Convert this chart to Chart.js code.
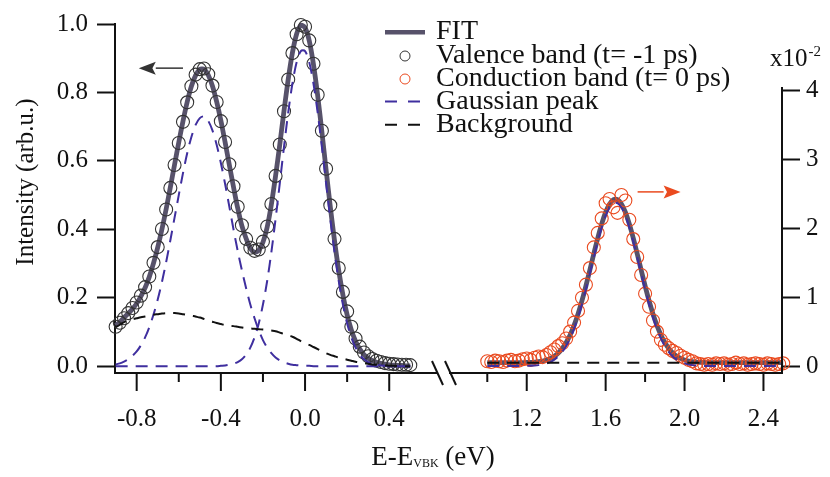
<!DOCTYPE html>
<html><head><meta charset="utf-8">
<script src="https://cdn.jsdelivr.net/npm/chart.js@4.4.1/dist/chart.umd.min.js"></script>
<style>
html,body{margin:0;padding:0;background:#fff;}
#wrap{position:relative;width:830px;height:477px;background:#fff;}
canvas{position:absolute;left:0;top:0;}
</style></head><body>
<div id="wrap"><canvas id="cA" width="830" height="477"></canvas><canvas id="cB" width="830" height="477"></canvas></div>
<script>
// ---------- Valence band panel (left axis) ----------
const vbX = [-0.90,-0.88,-0.86,-0.84,-0.82,-0.80,-0.78,-0.76,-0.74,-0.72,-0.70,-0.68,-0.66,-0.64,-0.62,-0.60,-0.58,-0.56,-0.54,-0.52,-0.50,-0.48,-0.46,-0.44,-0.42,-0.40,-0.38,-0.36,-0.34,-0.32,-0.30,-0.28,-0.26,-0.24,-0.22,-0.20,-0.18,-0.16,-0.14,-0.12,-0.10,-0.08,-0.06,-0.04,-0.02,0.00,0.02,0.04,0.06,0.08,0.10,0.12,0.14,0.16,0.18,0.20,0.22,0.24,0.26,0.28,0.30,0.32,0.34,0.36,0.38,0.40,0.42,0.44,0.46,0.48,0.50];
const vbData = [0.115,0.127,0.140,0.155,0.170,0.186,0.206,0.231,0.262,0.302,0.348,0.401,0.458,0.521,0.588,0.652,0.714,0.771,0.818,0.852,0.868,0.870,0.853,0.820,0.772,0.716,0.655,0.590,0.526,0.466,0.412,0.372,0.346,0.337,0.341,0.364,0.408,0.474,0.556,0.648,0.745,0.838,0.915,0.970,0.997,0.992,0.952,0.884,0.793,0.688,0.577,0.470,0.372,0.287,0.217,0.160,0.115,0.081,0.057,0.040,0.029,0.021,0.016,0.012,0.009,0.007,0.006,0.005,0.004,0.004,0.003];
const vbFit = [0.119,0.129,0.142,0.154,0.167,0.183,0.204,0.229,0.261,0.301,0.347,0.400,0.459,0.523,0.589,0.654,0.716,0.772,0.818,0.850,0.867,0.868,0.851,0.819,0.773,0.718,0.655,0.589,0.524,0.462,0.410,0.373,0.344,0.333,0.338,0.362,0.406,0.473,0.556,0.648,0.746,0.838,0.916,0.971,0.996,0.989,0.951,0.882,0.791,0.685,0.574,0.466,0.367,0.280,0.208,0.150,0.106,0.073,0.050,0.034,0.023,0.016,0.011,0.008,0.006,0.004,0.003,0.002,0.002,0.001,0.001];
const vbGauss1 = [0.005,0.008,0.013,0.020,0.030,0.043,0.061,0.084,0.114,0.151,0.195,0.246,0.304,0.368,0.434,0.500,0.564,0.622,0.670,0.705,0.725,0.730,0.717,0.689,0.647,0.594,0.533,0.467,0.400,0.337,0.280,0.228,0.180,0.140,0.105,0.076,0.054,0.038,0.025,0.017,0.011,0.007,0.004,0.003,0.002,0.001,0.001,0,0,0,0,0,0,0,0,0,0,0,0,0,0,0,0,0,0,0,0,0,0,0,0];
const vbGauss2 = [0,0,0,0,0,0,0,0,0,0,0,0,0,0,0,0,0,0,0,0,0,0,0,0,0,0.001,0.002,0.004,0.007,0.012,0.020,0.034,0.054,0.084,0.125,0.180,0.249,0.333,0.430,0.534,0.641,0.741,0.826,0.888,0.921,0.921,0.888,0.826,0.741,0.641,0.534,0.430,0.333,0.249,0.180,0.125,0.084,0.054,0.034,0.020,0.012,0.007,0.004,0.002,0.001,0,0,0,0,0,0];
const vbBackground = [0.114,0.121,0.129,0.134,0.137,0.140,0.143,0.145,0.147,0.150,0.152,0.154,0.155,0.155,0.155,0.154,0.152,0.150,0.148,0.145,0.142,0.138,0.134,0.130,0.126,0.123,0.120,0.118,0.117,0.115,0.113,0.111,0.110,0.109,0.108,0.107,0.106,0.104,0.102,0.098,0.094,0.090,0.086,0.080,0.073,0.067,0.062,0.056,0.050,0.044,0.038,0.033,0.029,0.025,0.022,0.019,0.016,0.013,0.011,0.009,0.007,0.005,0.004,0.003,0.002,0.001,0.001,0,0,0,0];

// ---------- Conduction band panel (right axis, x10^-2) ----------
const cbX = [1.00,1.02,1.04,1.06,1.08,1.10,1.12,1.14,1.16,1.18,1.20,1.22,1.24,1.26,1.28,1.30,1.32,1.34,1.36,1.38,1.40,1.42,1.44,1.46,1.48,1.50,1.52,1.54,1.56,1.58,1.60,1.62,1.64,1.66,1.68,1.70,1.72,1.74,1.76,1.78,1.80,1.82,1.84,1.86,1.88,1.90,1.92,1.94,1.96,1.98,2.00,2.02,2.04,2.06,2.08,2.10,2.12,2.14,2.16,2.18,2.20,2.22,2.24,2.26,2.28,2.30,2.32,2.34,2.36,2.38,2.40,2.42,2.44,2.46,2.48,2.50];
const cbData = [0.07,0.06,0.08,0.07,0.06,0.08,0.09,0.07,0.08,0.10,0.11,0.09,0.12,0.14,0.13,0.16,0.20,0.24,0.29,0.33,0.40,0.50,0.63,0.80,0.99,1.18,1.42,1.72,1.93,2.14,2.36,2.42,2.30,2.22,2.48,2.40,2.12,1.84,1.58,1.32,1.05,0.86,0.66,0.50,0.38,0.31,0.26,0.22,0.19,0.15,0.12,0.09,0.07,0.04,0.03,0.02,0.03,0.02,0.04,0.03,0.04,0.02,0.03,0.05,0.03,0.04,0.02,0.03,0.04,0.03,0.02,0.04,0.03,0.02,0.03,0.04];
const cbFit = [0.050,0.050,0.050,0.050,0.050,0.050,0.050,0.050,0.050,0.050,0.053,0.055,0.058,0.064,0.074,0.089,0.111,0.144,0.190,0.255,0.341,0.451,0.589,0.755,0.948,1.163,1.393,1.628,1.855,2.060,2.229,2.349,2.412,2.412,2.349,2.229,2.060,1.855,1.628,1.393,1.163,0.948,0.755,0.589,0.451,0.341,0.255,0.190,0.144,0.111,0.089,0.074,0.064,0.058,0.055,0.053,0.050,0.050,0.050,0.050,0.050,0.050,0.050,0.050,0.050,0.050,0.050,0.050,0.050,0.050,0.050,0.050,0.050,0.050,0.050,0.050];
const cbGauss = [0,0,0,0,0,0,0,0,0,0,0.003,0.005,0.008,0.014,0.024,0.039,0.061,0.094,0.140,0.205,0.291,0.401,0.539,0.705,0.898,1.113,1.343,1.578,1.805,2.010,2.179,2.299,2.362,2.362,2.299,2.179,2.010,1.805,1.578,1.343,1.113,0.898,0.705,0.539,0.401,0.291,0.205,0.140,0.094,0.061,0.039,0.024,0.014,0.008,0.005,0.003,0,0,0,0,0,0,0,0,0,0,0,0,0,0,0,0,0,0,0,0];
const cbBgX = [1.00, 2.50];
const cbBackground = [0.05, 0.05];

// ---------- ticks & labels ----------
const xLeftTicks = [-0.8,-0.6,-0.4,-0.2,0.0,0.2,0.4];
const xLeftLabels = ['-0.8','','-0.4','','0.0','','0.4'];
const xRightTicks = [1.0,1.2,1.4,1.6,1.8,2.0,2.2,2.4];
const xRightLabels = ['','1.2','','1.6','','2.0','','2.4'];
const yLeftTicks = [0,0.2,0.4,0.6,0.8,1.0];
const yLeftLabels = ['0.0','0.2','0.4','0.6','0.8','1.0'];
const yRightTicks = [0,1,2,3,4];
const yRightLabels = ['0','1','2','3','4'];
const legendLabels = ['FIT','Valence band (t= -1 ps)','Conduction band (t= 0 ps)','Gaussian peak','Background'];
// arrow annotations in data units: [xTail, xTip, y]
const arrowLeft = [-0.58, -0.79, 0.871];
const arrowRight = [1.762, 1.98, 2.524];

const FONT = '"Liberation Serif", "Times New Roman", serif';
const C_FIT = '#57526a', C_VB = '#333333', C_CB = '#ea4a1f', C_G = '#3f2f9f', C_BG = '#111111', C_AX = '#111111';
Chart.defaults.font.family = FONT;
Chart.defaults.color = C_AX;

const pts = (xs, ys) => xs.map((x, i) => ({x: x, y: ys[i]}));
const lineDS = (label, data, color, width, dash, order) => ({
  label, data, showLine: true, borderColor: color, backgroundColor: 'rgba(0,0,0,0)',
  borderWidth: width, borderDash: dash, pointRadius: 0, tension: 0.3, order, clip: false
});
const pointDS = (label, data, color, order) => ({
  label, data, showLine: false, borderColor: color, backgroundColor: 'rgba(0,0,0,0)',
  pointRadius: 6.5, pointBorderWidth: 1.1, pointBorderColor: color, pointBackgroundColor: 'rgba(0,0,0,0)',
  pointHoverRadius: 6.5, order, clip: false
});

function drawXTicks(chart, labels) {
  const s = chart.scales.x, ctx = chart.ctx, b = chart.chartArea.bottom;
  ctx.save(); ctx.strokeStyle = C_AX; ctx.lineWidth = 2;
  s.ticks.forEach((t, i) => {
    const p = s.getPixelForValue(t.value);
    const len = labels[i] ? 18 : 9;
    ctx.beginPath(); ctx.moveTo(p, b); ctx.lineTo(p, b + len); ctx.stroke();
  });
  ctx.restore();
}
function drawArrow(ctx, x1, x2, y, color) {
  ctx.save(); ctx.strokeStyle = color; ctx.fillStyle = color; ctx.lineWidth = 1.5;
  const dir = Math.sign(x2 - x1), hl = 17, hw = 6.5;
  ctx.beginPath(); ctx.moveTo(x1, y); ctx.lineTo(x2 - dir * hl, y); ctx.stroke();
  ctx.beginPath(); ctx.moveTo(x2, y); ctx.lineTo(x2 - dir * hl, y - hw); ctx.lineTo(x2 - dir * hl * 0.8, y); ctx.lineTo(x2 - dir * hl, y + hw); ctx.closePath(); ctx.fill();
  ctx.restore();
}

const decorA = {
  id: 'decorA',
  afterDraw(chart) {
    const ctx = chart.ctx, ca = chart.chartArea, sx = chart.scales.x, sy = chart.scales.y;
    drawXTicks(chart, xLeftLabels);
    // axis break marks
    ctx.save(); ctx.strokeStyle = C_AX; ctx.lineWidth = 2;
    const bx = ca.right, by = ca.bottom;
    ctx.beginPath(); ctx.moveTo(bx - 5, by - 12); ctx.lineTo(bx + 6, by + 12); ctx.stroke();
    ctx.beginPath(); ctx.moveTo(bx + 8, by - 12); ctx.lineTo(bx + 19, by + 12); ctx.stroke();
    ctx.restore();
    // arrow
    drawArrow(ctx, sx.getPixelForValue(arrowLeft[0]), sx.getPixelForValue(arrowLeft[1]), sy.getPixelForValue(arrowLeft[2]), '#333333');
    // y title
    ctx.save(); ctx.fillStyle = C_AX; ctx.font = '25px ' + FONT;
    ctx.translate(26, 182); ctx.rotate(-Math.PI / 2);
    ctx.textAlign = 'center'; ctx.textBaseline = 'middle';
    ctx.fillText('Intensity (arb.u.)', 0, 0);
    ctx.restore();
    // x title with subscript
    ctx.save(); ctx.fillStyle = C_AX; ctx.textBaseline = 'alphabetic';
    const mainF = '27px ' + FONT, subF = '12px ' + FONT;
    ctx.font = mainF; const wa = ctx.measureText('E-E').width, wc = ctx.measureText(' (eV)').width;
    ctx.font = subF; const wb = ctx.measureText('VBK').width;
    let x0 = 433 - (wa + wb + wc) / 2; const base = 465;
    ctx.font = mainF; ctx.fillText('E-E', x0, base);
    ctx.font = subF; ctx.fillText('VBK', x0 + wa, base + 2);
    ctx.font = mainF; ctx.fillText(' (eV)', x0 + wa + wb, base);
    ctx.restore();
    // legend
    ctx.save();
    const lx = 436, sxl = 385, sxr = 425, cxs = 405;
    const bases = [39.3, 63, 86, 108.5, 131.7];
    ctx.font = '28px ' + FONT; ctx.fillStyle = C_AX; ctx.textBaseline = 'alphabetic'; ctx.textAlign = 'left';
    legendLabels.forEach((t, i) => ctx.fillText(t, lx, bases[i]));
    const sy0 = bases.map(b => b - 7);
    ctx.strokeStyle = C_FIT; ctx.lineWidth = 4.5; ctx.beginPath(); ctx.moveTo(sxl, sy0[0]); ctx.lineTo(sxr, sy0[0]); ctx.stroke();
    ctx.lineWidth = 1; ctx.strokeStyle = C_VB; ctx.beginPath(); ctx.arc(cxs, sy0[1], 5, 0, Math.PI * 2); ctx.stroke();
    ctx.strokeStyle = C_CB; ctx.beginPath(); ctx.arc(cxs, sy0[2], 5, 0, Math.PI * 2); ctx.stroke();
    ctx.lineWidth = 2; ctx.setLineDash([12, 11]);
    ctx.strokeStyle = C_G; ctx.beginPath(); ctx.moveTo(sxl, sy0[3]); ctx.lineTo(sxr - 5, sy0[3]); ctx.stroke();
    ctx.strokeStyle = C_BG; ctx.beginPath(); ctx.moveTo(sxl, sy0[4]); ctx.lineTo(sxr - 5, sy0[4]); ctx.stroke();
    ctx.restore();
  }
};

const decorB = {
  id: 'decorB',
  afterDraw(chart) {
    const ctx = chart.ctx, ca = chart.chartArea, sx = chart.scales.x, sy = chart.scales.y;
    drawXTicks(chart, xRightLabels);
    // right axis line from top tick down to the x axis
    ctx.save(); ctx.strokeStyle = C_AX; ctx.lineWidth = 2;
    ctx.beginPath(); ctx.moveTo(ca.right, sy.getPixelForValue(yRightTicks[yRightTicks.length - 1]) - 3); ctx.lineTo(ca.right, ca.bottom + 1); ctx.stroke();
    ctx.restore();
    drawArrow(ctx, sx.getPixelForValue(arrowRight[0]), sx.getPixelForValue(arrowRight[1]), sy.getPixelForValue(arrowRight[2]), C_CB);
    // multiplier label
    ctx.save(); ctx.fillStyle = C_AX; ctx.textBaseline = 'alphabetic';
    ctx.font = '25px ' + FONT; ctx.fillText('x10', 770, 66);
    const w = ctx.measureText('x10').width;
    ctx.font = '15px ' + FONT; ctx.fillText('-2', 770 + w + 1, 56);
    ctx.restore();
  }
};

const commonX = (ticks, labels) => ({
  type: 'linear',
  afterBuildTicks: s => { s.ticks = ticks.map(v => ({value: v})); },
  afterFit: s => { s.height = 104; },
  ticks: { callback: (v, i) => labels[i], font: {size: 25}, color: C_AX, padding: 13, maxRotation: 0, autoSkip: false },
  grid: { display: true, drawOnChartArea: false, drawTicks: true, tickLength: 18, tickColor: 'rgba(0,0,0,0)' },
  border: { display: true, color: C_AX, width: 2 }
});

new Chart(document.getElementById('cA'), {
  type: 'scatter',
  data: { datasets: [
    lineDS('FIT', pts(vbX, vbFit), C_FIT, 4.8, [], 4),
    pointDS('Valence band (t= -1 ps)', pts(vbX, vbData), C_VB, 3),
    lineDS('Gaussian peak 1', pts(vbX, vbGauss1), C_G, 2, [12, 8], 2),
    lineDS('Gaussian peak 2', pts(vbX, vbGauss2), C_G, 2, [12, 8], 2),
    lineDS('Background', pts(vbX, vbBackground), C_BG, 2, [12, 8], 1)
  ]},
  options: {
    responsive: false, animation: false, devicePixelRatio: 1,
    layout: { padding: { left: 0, top: 14, right: 393, bottom: 0 } },
    plugins: { legend: { display: false }, tooltip: { enabled: false } },
    scales: {
      x: Object.assign(commonX(xLeftTicks, xLeftLabels), { min: -0.903, max: 0.627 }),
      y: {
        type: 'linear', position: 'left', min: -0.02, max: 1.0,
        afterBuildTicks: s => { s.ticks = yLeftTicks.map(v => ({value: v})); },
        afterFit: s => { s.width = 115; },
        ticks: { callback: (v, i) => yLeftLabels[i], font: {size: 25}, color: C_AX, padding: 9 },
        grid: { display: true, drawOnChartArea: false, drawTicks: true, tickLength: 18, tickColor: C_AX, tickWidth: 2 },
        border: { display: true, color: C_AX, width: 2 }
      }
    }
  },
  plugins: [decorA]
});

new Chart(document.getElementById('cB'), {
  type: 'scatter',
  data: { datasets: [
    lineDS('FIT', pts(cbX, cbFit), C_FIT, 4.8, [], 4),
    pointDS('Conduction band (t= 0 ps)', pts(cbX, cbData), C_CB, 3),
    lineDS('Gaussian peak', pts(cbX, cbGauss), C_G, 2, [12, 8], 2),
    lineDS('Background', pts(cbBgX, cbBackground), C_BG, 2, [12, 8], 1)
  ]},
  options: {
    responsive: false, animation: false, devicePixelRatio: 1,
    layout: { padding: { left: 450, top: 14, right: 0, bottom: 0 } },
    plugins: { legend: { display: false }, tooltip: { enabled: false } },
    scales: {
      x: Object.assign(commonX(xRightTicks, xRightLabels), { min: 0.811, max: 2.494 }),
      y: {
        type: 'linear', position: 'right', min: -0.1, max: 5.0,
        afterBuildTicks: s => { s.ticks = yRightTicks.map(v => ({value: v})); },
        afterFit: s => { s.width = 48; },
        ticks: { callback: (v, i) => yRightLabels[i], font: {size: 25}, color: C_AX, padding: 6 },
        grid: { display: true, drawOnChartArea: false, drawTicks: true, tickLength: 18, tickColor: C_AX, tickWidth: 2 },
        border: { display: false }
      }
    }
  },
  plugins: [decorB]
});
</script>
</body></html>
